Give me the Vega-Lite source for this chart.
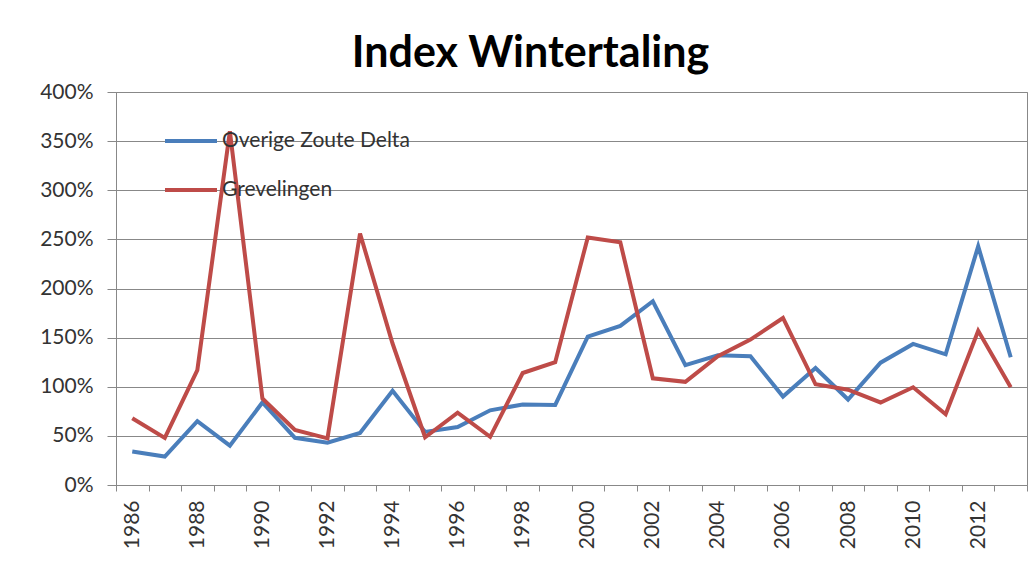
{
  "$schema": "https://vega.github.io/schema/vega-lite/v6.json",
  "width": 911,
  "height": 393,
  "autosize": {"type": "none"},
  "padding": {"left": 116, "top": 92, "right": 9, "bottom": 76},
  "background": "white",
  "title": {
    "text": "Index Wintertaling",
    "font": "Lato",
    "fontSize": 43,
    "fontWeight": "bold",
    "color": "#000000",
    "anchor": "middle",
    "frame": "group",
    "dx": -41,
    "offset": 5
  },
  "data": {
    "values": [
      {"year": "1986", "series": "Overige Zoute Delta", "value": 0.34},
      {"year": "1987", "series": "Overige Zoute Delta", "value": 0.29},
      {"year": "1988", "series": "Overige Zoute Delta", "value": 0.65},
      {"year": "1989", "series": "Overige Zoute Delta", "value": 0.40},
      {"year": "1990", "series": "Overige Zoute Delta", "value": 0.84},
      {"year": "1991", "series": "Overige Zoute Delta", "value": 0.48},
      {"year": "1992", "series": "Overige Zoute Delta", "value": 0.43},
      {"year": "1993", "series": "Overige Zoute Delta", "value": 0.53},
      {"year": "1994", "series": "Overige Zoute Delta", "value": 0.96},
      {"year": "1995", "series": "Overige Zoute Delta", "value": 0.54},
      {"year": "1996", "series": "Overige Zoute Delta", "value": 0.59},
      {"year": "1997", "series": "Overige Zoute Delta", "value": 0.76},
      {"year": "1998", "series": "Overige Zoute Delta", "value": 0.82},
      {"year": "1999", "series": "Overige Zoute Delta", "value": 0.815},
      {"year": "2000", "series": "Overige Zoute Delta", "value": 1.51},
      {"year": "2001", "series": "Overige Zoute Delta", "value": 1.62},
      {"year": "2002", "series": "Overige Zoute Delta", "value": 1.87},
      {"year": "2003", "series": "Overige Zoute Delta", "value": 1.22},
      {"year": "2004", "series": "Overige Zoute Delta", "value": 1.32},
      {"year": "2005", "series": "Overige Zoute Delta", "value": 1.31},
      {"year": "2006", "series": "Overige Zoute Delta", "value": 0.90},
      {"year": "2007", "series": "Overige Zoute Delta", "value": 1.19},
      {"year": "2008", "series": "Overige Zoute Delta", "value": 0.87},
      {"year": "2009", "series": "Overige Zoute Delta", "value": 1.245},
      {"year": "2010", "series": "Overige Zoute Delta", "value": 1.436},
      {"year": "2011", "series": "Overige Zoute Delta", "value": 1.33},
      {"year": "2012", "series": "Overige Zoute Delta", "value": 2.43},
      {"year": "2013", "series": "Overige Zoute Delta", "value": 1.30},
      {"year": "1986", "series": "Grevelingen", "value": 0.68},
      {"year": "1987", "series": "Grevelingen", "value": 0.48},
      {"year": "1988", "series": "Grevelingen", "value": 1.17},
      {"year": "1989", "series": "Grevelingen", "value": 3.60},
      {"year": "1990", "series": "Grevelingen", "value": 0.88},
      {"year": "1991", "series": "Grevelingen", "value": 0.56},
      {"year": "1992", "series": "Grevelingen", "value": 0.475},
      {"year": "1993", "series": "Grevelingen", "value": 2.56},
      {"year": "1994", "series": "Grevelingen", "value": 1.44},
      {"year": "1995", "series": "Grevelingen", "value": 0.486},
      {"year": "1996", "series": "Grevelingen", "value": 0.736},
      {"year": "1997", "series": "Grevelingen", "value": 0.49},
      {"year": "1998", "series": "Grevelingen", "value": 1.14},
      {"year": "1999", "series": "Grevelingen", "value": 1.25},
      {"year": "2000", "series": "Grevelingen", "value": 2.52},
      {"year": "2001", "series": "Grevelingen", "value": 2.47},
      {"year": "2002", "series": "Grevelingen", "value": 1.086},
      {"year": "2003", "series": "Grevelingen", "value": 1.05},
      {"year": "2004", "series": "Grevelingen", "value": 1.31},
      {"year": "2005", "series": "Grevelingen", "value": 1.48},
      {"year": "2006", "series": "Grevelingen", "value": 1.70},
      {"year": "2007", "series": "Grevelingen", "value": 1.025},
      {"year": "2008", "series": "Grevelingen", "value": 0.97},
      {"year": "2009", "series": "Grevelingen", "value": 0.84},
      {"year": "2010", "series": "Grevelingen", "value": 0.995},
      {"year": "2011", "series": "Grevelingen", "value": 0.72},
      {"year": "2012", "series": "Grevelingen", "value": 1.57},
      {"year": "2013", "series": "Grevelingen", "value": 0.995}
    ]
  },
  "mark": {"type": "line", "strokeWidth": 4, "strokeJoin": "miter", "strokeCap": "butt"},
  "encoding": {
    "x": {
      "field": "year",
      "type": "ordinal",
      "scale": {"type": "band", "paddingInner": 0, "paddingOuter": 0},
      "axis": {
        "title": null,
        "tickBand": "extent",
        "labelAngle": -90,
        "labelAlign": "right",
        "labelBaseline": "middle",
        "labelExpr": "toNumber(datum.value) % 2 == 0 ? datum.label : ''",
        "labelFont": "Lato",
        "labelFontSize": 21,
        "labelColor": "#333333",
        "labelPadding": 9,
        "tickSize": 6,
        "tickColor": "#888888",
        "domainColor": "#888888",
        "grid": false
      }
    },
    "y": {
      "field": "value",
      "type": "quantitative",
      "scale": {"domain": [0, 4], "nice": false},
      "axis": {
        "title": null,
        "values": [0, 0.5, 1, 1.5, 2, 2.5, 3, 3.5, 4],
        "format": ".0%",
        "labelFont": "Lato",
        "labelFontSize": 21,
        "labelColor": "#333333",
        "labelPadding": 14,
        "tickSize": 9,
        "tickColor": "#888888",
        "domainColor": "#888888",
        "grid": true,
        "gridColor": "#888888",
        "gridWidth": 1
      }
    },
    "color": {
      "field": "series",
      "type": "nominal",
      "sort": ["Overige Zoute Delta", "Grevelingen"],
      "scale": {"domain": ["Overige Zoute Delta", "Grevelingen"], "range": ["#4a7ebb", "#be4b48"]},
      "legend": {
        "title": null,
        "orient": "none",
        "legendX": 47,
        "legendY": 21,
        "symbolType": "stroke",
        "symbolSize": 2704,
        "symbolStrokeWidth": 4,
        "labelFont": "Lato",
        "labelFontSize": 21,
        "labelLimit": 400,
        "labelColor": "#333333",
        "labelOffset": 3,
        "rowPadding": 11
      }
    }
  },
  "config": {
    "view": {"stroke": "#888888", "strokeWidth": 1}
  }
}
